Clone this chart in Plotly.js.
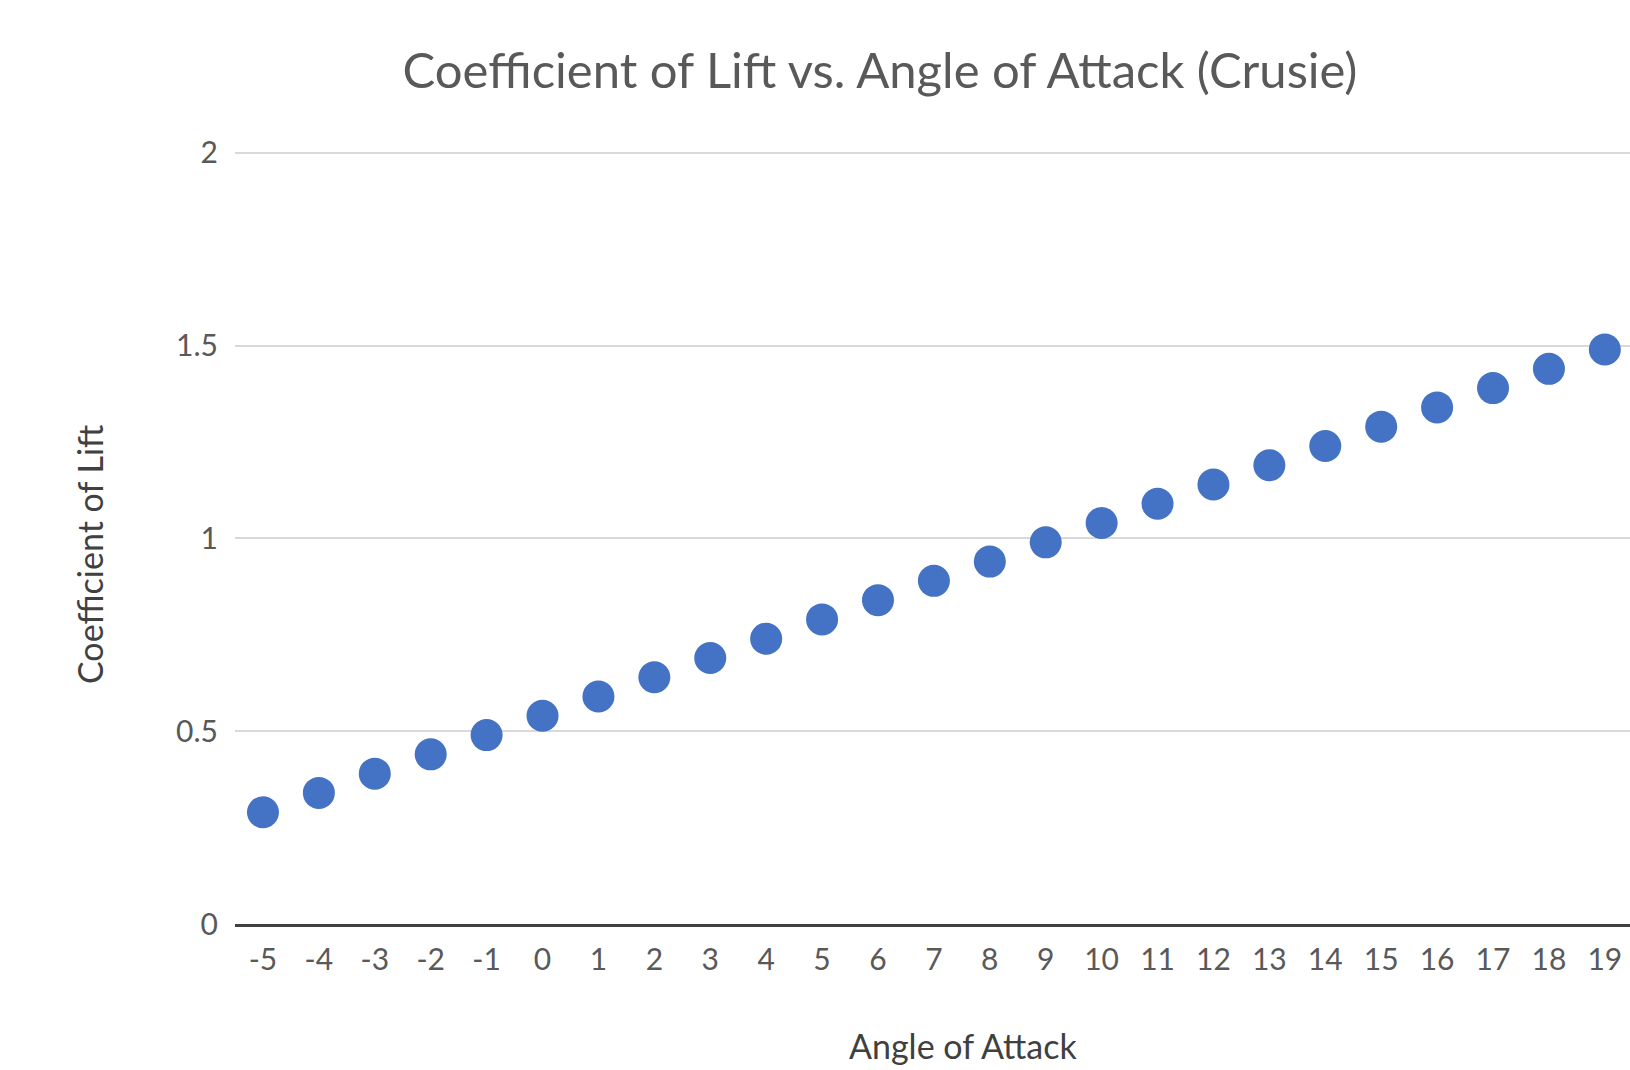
<!DOCTYPE html>
<html>
<head>
<meta charset="utf-8">
<script src="https://cdn.plot.ly/plotly-3.0.1.min.js"></script>
<style>html,body{margin:0;padding:0;background:#fff;}#chart{width:1630px;height:1070px;}</style>
</head>
<body>
<div id="chart"></div>
<script>
const angleOfAttack = [-5,-4,-3,-2,-1,0,1,2,3,4,5,6,7,8,9,10,11,12,13,14,15,16,17,18,19];
const coefficientOfLift = [0.29,0.34,0.39,0.44,0.49,0.54,0.59,0.64,0.69,0.74,0.79,0.84,0.89,0.94,0.99,1.04,1.09,1.14,1.19,1.24,1.29,1.34,1.39,1.44,1.49];
const yTickValues = [0,0.5,1,1.5,2];
const yTickLabels = ["0","0.5","1","1.5","2"];

const FONT = "Lato, 'Open Sans', sans-serif";

Plotly.newPlot('chart', [{
  type: 'scatter',
  mode: 'markers',
  x: angleOfAttack,
  y: coefficientOfLift,
  cliponaxis: false,
  marker: {color: '#4472C4', size: 32, line: {width: 0}},
  hoverinfo: 'x+y'
}], {
  width: 1630,
  height: 1070,
  margin: {l: 235, r: 0, t: 151, b: 146, pad: 0},
  paper_bgcolor: '#ffffff',
  plot_bgcolor: '#ffffff',
  showlegend: false,
  title: {
    text: 'Coefficient of Lift vs. Angle of Attack (Crusie)',
    font: {family: FONT, size: 49, color: '#595959'},
    x: 880/1630, xanchor: 'center',
    y: 1 - 71/1070, yanchor: 'middle'
  },
  xaxis: {
    range: [-5.5, 19.45],
    tickmode: 'array',
    tickvals: angleOfAttack,
    ticktext: angleOfAttack.map(String),
    showgrid: false,
    zeroline: false,
    showline: true,
    linecolor: '#404040',
    linewidth: 3,
    ticks: '',
    ticklabelstandoff: 7,
    tickfont: {family: FONT, size: 30, color: '#595959'}
  },
  yaxis: {
    range: [0, 2.005],
    tickmode: 'array',
    tickvals: yTickValues,
    ticktext: yTickLabels,
    showgrid: true,
    gridcolor: '#D9D9D9',
    gridwidth: 2,
    zeroline: false,
    showline: false,
    ticks: '',
    ticklabelstandoff: 16,
    tickfont: {family: FONT, size: 30, color: '#595959'}
  },
  annotations: [
    {text: 'Angle of Attack', xref: 'paper', yref: 'paper',
     x: (963-235)/1395, y: -(1045-924)/773, xanchor: 'center', yanchor: 'middle',
     showarrow: false, font: {family: FONT, size: 34, color: '#404040'}},
    {text: 'Coefficient of Lift', xref: 'paper', yref: 'paper',
     x: (89-235)/1395, y: (924-555)/773, xanchor: 'center', yanchor: 'middle', textangle: -90,
     showarrow: false, font: {family: FONT, size: 34, color: '#404040'}}
  ]
}, {displayModeBar: false});
</script>
</body>
</html>
